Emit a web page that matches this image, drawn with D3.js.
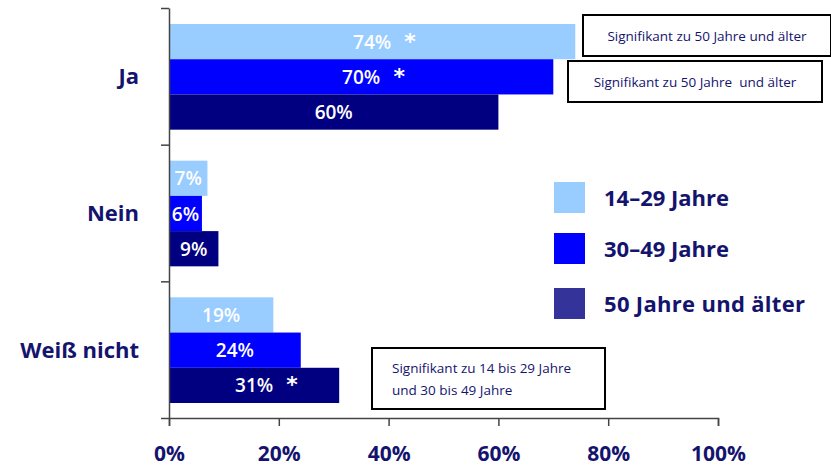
<!DOCTYPE html>
<html><head><meta charset="utf-8">
<script src="https://cdn.jsdelivr.net/npm/d3@7"></script>
<style>body{margin:0;background:#fff}svg{display:block}</style>
</head><body>
<svg id="c" width="831" height="466"></svg>
<script>
const categories = ["Ja", "Nein", "Weiß nicht"];
const seriesNames = ["14-29 Jahre", "30-49 Jahre", "50 Jahre und älter"];
const values14_29 = [74, 7, 19];
const values30_49 = [70, 6, 24];
const values50plus = [60, 9, 31];
const significant = [[true, false, false], [true, false, false], [false, false, true]];
const tickValues = [0, 20, 40, 60, 80, 100];
const notes = [
  ["Signifikant zu 50 Jahre und älter"],
  ["Signifikant zu 50 Jahre  und älter"],
  ["Signifikant zu 14 bis 29 Jahre", "und 30 bis 49 Jahre"]
];

const barColors = ["#99CCFF", "#0000FF", "#000080"];
const legendColors = ["#99CCFF", "#0000FF", "#333399"];
const navy = "#14146e";
const series = [values14_29, values30_49, values50plus];

const svg = d3.select("#c");
const x = d3.scaleLinear().domain([0, 100]).range([169, 718]);
const yBand = d3.scaleBand().domain(categories).range([8, 418]);
const ySub = d3.scaleBand().domain(d3.range(3)).range([16, yBand.bandwidth() - 15]);
const yLin = d3.scaleLinear().domain([0, 3]).range([8, 418]);

// bars
const g = svg.append("g");
categories.forEach((c, ci) => {
  series.forEach((vals, si) => {
    const y0 = yBand(c) + ySub(si);
    g.append("rect").attr("x", x(0)).attr("y", y0)
      .attr("width", x(vals[ci]) - x(0)).attr("height", ySub.bandwidth())
      .attr("fill", barColors[si]);
    const cx = (x(0) + x(vals[ci])) / 2;
    g.append("text").attr("x", cx).attr("y", y0 + ySub.bandwidth() / 2 + 7)
      .attr("text-anchor", "middle").attr("fill", "#fff")
      .attr("font-family", "Open Sans").attr("font-weight", 600).attr("font-size", 19)
      .text(vals[ci] + "%");
    if (significant[si][ci]) {
      g.append("text").attr("x", cx + 38).attr("y", y0 + ySub.bandwidth() / 2 + 7)
        .attr("text-anchor", "middle").attr("fill", "#fff")
        .attr("font-family", "DejaVu Sans").attr("font-weight", "bold").attr("font-size", 22)
        .text("*");
    }
  });
});
</script>
<script>
// axes
const xAxis = svg.append("g").attr("transform", "translate(0,418)")
  .call(d3.axisBottom(x).tickValues(tickValues).tickFormat(d => d + "%").tickSize(8).tickSizeOuter(8).tickPadding(20));
xAxis.select(".domain").attr("stroke", "#444").attr("stroke-width", 1.5);
xAxis.selectAll(".tick line").attr("stroke", "#444").attr("stroke-width", 1.5);
xAxis.selectAll(".tick text").attr("fill", navy).attr("font-family", "Open Sans")
  .attr("font-weight", "bold").attr("font-size", 21);

const yAxis = svg.append("g").attr("transform", "translate(169,0)")
  .call(d3.axisLeft(yLin).tickValues([0, 1, 2, 3]).tickFormat("").tickSize(8).tickSizeOuter(0));
yAxis.select(".domain").attr("stroke", "#444").attr("stroke-width", 1.5);
yAxis.selectAll(".tick line").attr("stroke", "#444").attr("stroke-width", 1.5);

// category labels
svg.append("g").selectAll("text").data(categories).join("text")
  .attr("x", 139).attr("y", d => yBand(d) + yBand.bandwidth() / 2 + 8)
  .attr("text-anchor", "end").attr("fill", navy)
  .attr("font-family", "Open Sans").attr("font-weight", "bold").attr("font-size", 22)
  .text(d => d);

// legend
const lg = svg.append("g");
seriesNames.forEach((n, i) => {
  const yy = [182, 233, 288][i];
  lg.append("rect").attr("x", 554).attr("y", yy).attr("width", 31).attr("height", 31).attr("fill", legendColors[i]);
  lg.append("text").attr("x", 604).attr("y", yy + 24).attr("fill", navy)
    .attr("font-family", "Open Sans").attr("font-weight", "bold").attr("font-size", 22)
    .attr("textLength", i === 2 ? 201 : null)
    .text(n.replace("-", "–"));
});

// note boxes
const boxes = [[583, 15, 248, 41], [568, 61, 254, 41], [372, 348, 233, 61]];
notes.forEach((lines, i) => {
  const [bx, by, bw, bh] = boxes[i];
  svg.append("rect").attr("x", bx).attr("y", by).attr("width", bw).attr("height", bh)
    .attr("fill", "#fff").attr("stroke", "#000").attr("stroke-width", 2);
  lines.forEach((t, li) => {
    const txt = svg.append("text").attr("fill", navy)
      .attr("font-family", "Open Sans").attr("font-size", 13.5).attr("xml:space", "preserve")
      .style("white-space", "pre").text(t);
    if (lines.length === 1) {
      txt.attr("x", bx + bw / 2).attr("y", by + bh / 2 + 5).attr("text-anchor", "middle");
    } else {
      txt.attr("x", bx + 20).attr("y", by + 25 + li * 22);
    }
  });
});
</script>
</body></html>
